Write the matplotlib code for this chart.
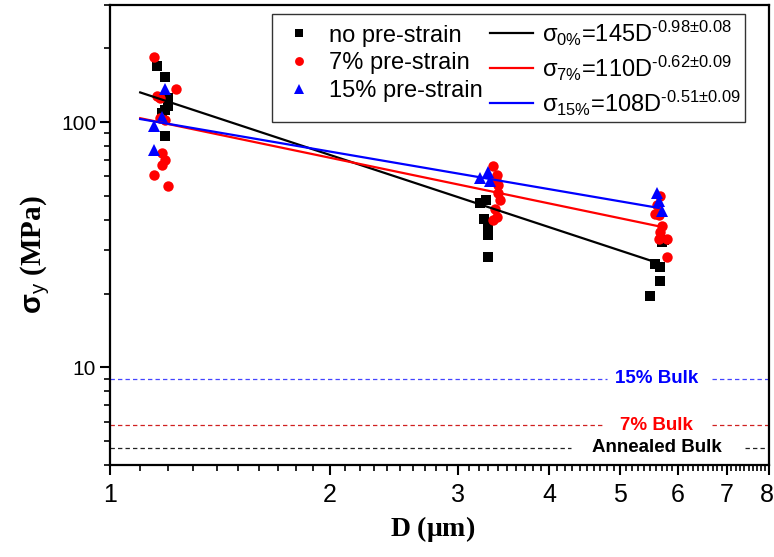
import numpy as np
import matplotlib
matplotlib.use("Agg")
import matplotlib.pyplot as plt
from matplotlib.lines import Line2D
from matplotlib.ticker import FixedLocator, NullFormatter, FixedFormatter
import matplotlib.transforms as mtransforms

plt.rcParams['font.family'] = ['Liberation Sans', 'DejaVu Sans']
plt.rcParams['mathtext.fontset'] = 'custom'
plt.rcParams['mathtext.rm'] = 'Liberation Sans'
plt.rcParams['mathtext.it'] = 'Liberation Sans'
plt.rcParams['mathtext.bf'] = 'Liberation Sans:bold'
plt.rcParams['mathtext.sf'] = 'Liberation Sans'

# ---- data ----
d_none = [1.16, 1.19, 1.20, 1.20, 1.18, 1.19, 1.19,
          3.21, 3.25, 3.30, 3.30, 3.30, 3.28,
          5.70, 5.58, 5.67, 5.67, 5.49, 5.75]
s_none = [170, 153, 125, 116, 109, 88, 112,
          46.6, 40.4, 37.1, 34.8, 28.3, 48,
          32.5, 26.4, 25.7, 22.5, 19.5, 33]

d_7 = [1.15, 1.23, 1.16, 1.17, 1.19, 1.18, 1.19, 1.18, 1.15, 1.20, 1.17,
       3.35, 3.39, 3.40, 3.40, 3.42, 3.37, 3.39, 3.35, 3.38,
       5.67, 5.62, 5.65, 5.70, 5.67, 5.65, 5.80, 5.80, 5.58]
s_7 = [185, 137, 128, 104, 102, 75, 70, 67, 61, 55, 125,
       66, 60.6, 55.2, 51.2, 47.9, 44.4, 41.2, 39.7, 58,
       50, 45.7, 41.6, 37.8, 35.7, 33.5, 33.5, 28.2, 42]

d_15 = [1.19, 1.18, 1.15, 1.15,
        3.21, 3.30, 3.32,
        5.62, 5.65, 5.70]
s_15 = [137, 105, 96, 77,
        59, 62.4, 57.3,
        51.2, 47.5, 43.2]

fit_prefactor = [145, 110, 108]
fit_exponent = [-0.98, -0.62, -0.51]
fit_labels = [r'$\sigma_{0\%}$=145D$^{\text{-0.98±0.08}}$',
              r'$\sigma_{7\%}$=110D$^{\text{-0.62±0.09}}$',
              r'$\sigma_{15\%}$=108D$^{\text{-0.51±0.09}}$']
fit_range = [1.1, 5.65]

series_labels = ['no pre-strain', '7% pre-strain', '15% pre-strain']

bulk_values = [9.0, 5.8, 4.7]
bulk_labels = ['15% Bulk', '7% Bulk', 'Annealed Bulk']

x_ticks = [1, 2, 3, 4, 5, 6, 7, 8]
y_ticks = [10, 100]

# ---- styles ----
colors = ['black', 'red', 'blue']
markers = ['s', 'o', '^']
msizes = [6.5, 7.5, 8.5]
bulk_line_colors = ['#4444ff', '#d02020', '#222222']
bulk_text_colors = ['blue', 'red', 'black']
bulk_gaps = [(4.80, 6.68), (4.73, 6.68), (4.29, 7.41)]
label_x = 5.61

fig = plt.figure(figsize=(7.74, 5.57), dpi=100)
ax = fig.add_axes([0.1421, 0.1652, 0.8514, 0.8258])
ax.set_xscale('log')
ax.set_yscale('log')
ax.set_xlim(1, 8)
ax.set_ylim(4, 300)

xs = [d_none, d_7, d_15]
ys = [s_none, s_7, s_15]
for x, y, c, m, ms in zip(xs, ys, colors, markers, msizes):
    ax.plot(x, y, linestyle='none', marker=m, color=c, markersize=ms,
            markeredgewidth=0, zorder=3)

dd = np.geomspace(fit_range[0], fit_range[1], 50)
for a, b, c in zip(fit_prefactor, fit_exponent, colors):
    ax.plot(dd, a * dd ** b, color=c, lw=1.6, zorder=4)

# bulk dashed lines with gaps for labels
for v, lc, tc, lab, gap in zip(bulk_values, bulk_line_colors, bulk_text_colors,
                                bulk_labels, bulk_gaps):
    for seg in [(1, gap[0]), (gap[1], 8)]:
        ax.plot(seg, [v, v], color=lc, lw=0.9, dashes=(3.5, 2.5), zorder=2)
    ax.text(label_x, v, lab, color=tc, fontsize=13.5, fontweight='bold',
            ha='center', va='center', zorder=5)

# ticks
ax.xaxis.set_major_locator(FixedLocator(x_ticks))
ax.xaxis.set_major_formatter(FixedFormatter([str(t) for t in x_ticks]))
xminor = [v for v in np.round(np.arange(1.0, 8.0, 0.1), 1) if abs(v - round(v)) > 1e-6]
ax.xaxis.set_minor_locator(FixedLocator(xminor))
ax.xaxis.set_minor_formatter(NullFormatter())

ax.yaxis.set_major_locator(FixedLocator(y_ticks))
ax.yaxis.set_major_formatter(FixedFormatter([str(t) for t in y_ticks]))
yminor = [4, 5, 6, 7, 8, 9, 20, 30, 40, 50, 60, 70, 80, 90, 200, 300]
ax.yaxis.set_minor_locator(FixedLocator(yminor))
ax.yaxis.set_minor_formatter(NullFormatter())

ax.tick_params(which='major', direction='out', length=7, width=1.5)
ax.tick_params(which='minor', direction='out', length=4.5, width=1.2)
ax.tick_params(axis='x', which='major', labelsize=18, pad=6)
ax.tick_params(axis='y', which='major', labelsize=15, pad=3)
for sp in ax.spines.values():
    sp.set_linewidth(1.6)

fig.canvas.draw()
last = ax.get_xticklabels()[-1]
last.set_transform(last.get_transform() +
                   mtransforms.ScaledTranslation(-2 / 100, 0, fig.dpi_scale_trans))

ax.set_xlabel(r'D ($\mathregular{\mu}$m)', family='Liberation Serif',
              fontweight='bold', fontsize=20)
ax.set_ylabel(r'$\mathbf{\sigma}_y$ (MPa)', family='Liberation Serif',
              fontweight='bold', fontsize=21)
ax.xaxis.set_label_coords(0.489, -0.106)
ax.yaxis.set_label_coords(-0.088, 0.457)

# legend
handles = []
for c, m, ms in zip(colors, markers, msizes):
    handles.append(Line2D([], [], linestyle='none', marker=m, color=c,
                          markersize=ms * 0.85, markeredgewidth=0))
for c in colors:
    handles.append(Line2D([], [], color=c, lw=1.6))
labels = series_labels + fit_labels
leg = ax.legend(handles, labels, ncol=2, loc='upper right',
                bbox_to_anchor=(0.964, 0.981), fontsize=17,
                frameon=True, fancybox=False, edgecolor='black',
                handlelength=1.85, handletextpad=0.35, columnspacing=0.3,
                labelspacing=0.25, borderpad=0.2, borderaxespad=0)
leg.get_frame().set_linewidth(1.0)

fig.savefig('out.png', dpi=100)
